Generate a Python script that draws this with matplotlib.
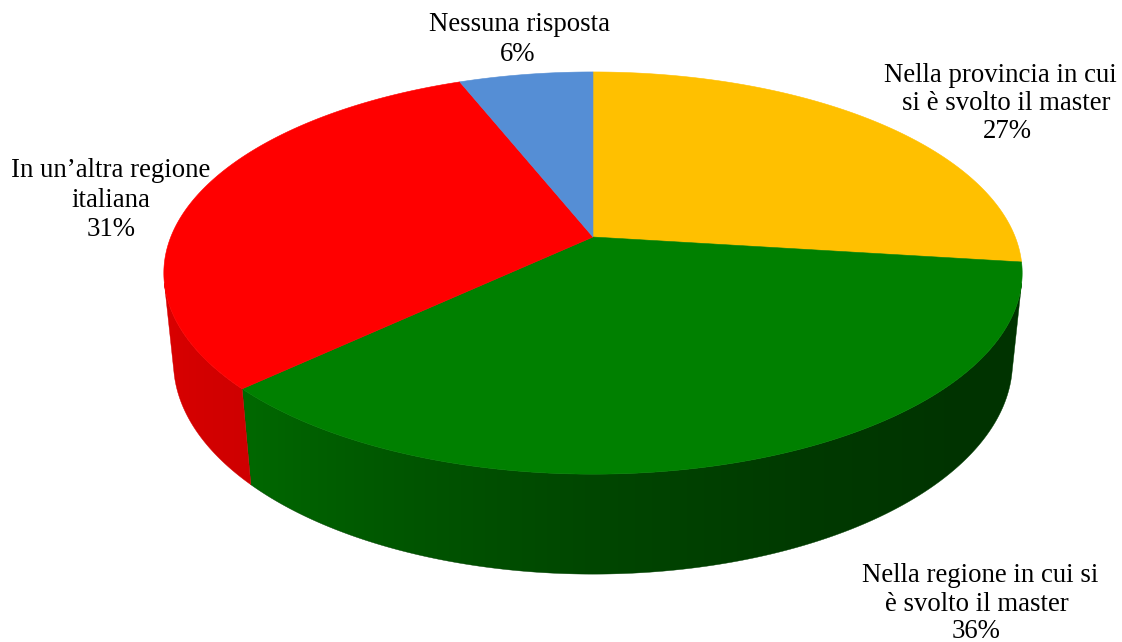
import numpy as np
import matplotlib
matplotlib.use("Agg")
import matplotlib.pyplot as plt
from matplotlib.patches import Polygon
from matplotlib.colors import to_rgb

# ---- data ----
values = [27, 36, 31, 6]
colors = ["#FFC000", "#008000", "#FF0000", "#558ED5"]
label_lines = [
    ["Nella provincia in cui", "si è svolto il master", "27%"],
    ["Nella regione in cui si", "è svolto il master", "36%"],
    ["In un’altra regione", "italiana", "31%"],
    ["Nessuna risposta", "6%"],
]
# label line anchor positions (pixel coords: x center, baseline y)
label_pos = [
    [(1000, 81.7), (1006, 110.0), (1007.5, 138.3)],
    [(980.5, 581.7), (976.5, 610.7), (975.6, 637.5)],
    [(111, 177.0), (111, 206.7), (111, 236.0)],
    [(520, 30.7), (518, 61.0)],
]

W, H = 1122, 642
fig = plt.figure(figsize=(W / 100, H / 100), dpi=100)
ax = fig.add_axes([0, 0, 1, 1])
ax.set_xlim(0, W)
ax.set_ylim(H, 0)
ax.axis("off")

# ---- perspective camera for the 3D pie ----
CX, CY = 593.0, 237.0
s = 0.461
c = np.sqrt(1 - s * s)
L = 4.95
F = 2090.0
DEPTH = 0.239
Zc = L * c
VIS = np.degrees(np.arcsin(1.0 / Zc))  # visible side: 180+VIS .. 360-VIS


def proj(theta_deg, depth):
    t = np.radians(theta_deg)
    X = np.cos(t)
    v = np.sin(t)
    den = L + depth * s + v * c
    x = CX + F * X / den
    y = CY - F * (v * s - depth * c) / den
    return x, y


def shade(theta_deg):
    t = np.asarray(theta_deg) % 360
    return np.interp(t, [180, 200, 225, 250, 270, 295, 320, 360],
                     [0.86, 0.85, 0.81, 0.66, 0.55, 0.45, 0.40, 0.40])


total = float(sum(values))
bounds = [90.0]
for val in values:
    bounds.append(bounds[-1] - val / total * 360.0)

# mapping x -> theta along visible front rim
tf = np.linspace(180 + VIS, 360 - VIS, 2000)
xf, _ = proj(tf, 0)

# sides (gradient image clipped to each slice's side polygon)
for i, col in enumerate(colors):
    t1, t2 = bounds[i] % 360, bounds[i + 1] % 360
    lo, hi = sorted([t1, t2])
    if bounds[i] - bounds[i + 1] > 0 and t2 > t1:  # wraps around 0
        ranges = [(t2, 360), (0, t1)]
    else:
        ranges = [(lo, hi)]
    base = np.array(to_rgb(col))
    for a, b in ranges:
        a2, b2 = max(a, 180 + VIS), min(b, 360 - VIS)
        if b2 <= a2:
            continue
        ts = np.linspace(a2, b2, 300)
        xt, yt = proj(ts, 0)
        xb, yb = proj(ts[::-1], DEPTH)
        pts = list(zip(xt, yt)) + list(zip(xb, yb))
        poly = Polygon(pts, closed=True, facecolor="none", edgecolor="none")
        ax.add_patch(poly)
        x0, x1 = min(min(xt), min(xb)) - 2, max(max(xt), max(xb)) + 2
        y0, y1 = min(min(yt), min(yb)) - 2, max(max(yt), max(yb)) + 2
        xs = np.linspace(x0, x1, 600)
        th = np.interp(xs, xf, tf)
        rgb = np.clip(base[None, :] * shade(th)[:, None], 0, 1)
        img = ax.imshow(rgb[None, :, :], extent=[x0, x1, y1, y0],
                        aspect="auto", interpolation="bilinear", zorder=1)
        img.set_clip_path(poly)
        ax.add_patch(Polygon(pts, closed=True, facecolor="none",
                             edgecolor=np.clip(base * shade(0.5 * (a2 + b2)), 0, 1),
                             linewidth=0.3, zorder=1))

# top faces
for i, col in enumerate(colors):
    t1, t2 = bounds[i], bounds[i + 1]
    ts = np.linspace(t1, t2, 200)
    xs, ys = proj(ts, 0)
    pts = [(CX, CY)] + list(zip(xs, ys))
    ax.add_patch(Polygon(pts, closed=True, facecolor=col, edgecolor=col,
                         linewidth=0.4, zorder=2))

ax.set_xlim(0, W)
ax.set_ylim(H, 0)

# labels
for lines, poss in zip(label_lines, label_pos):
    for txt, (x, y) in zip(lines, poss):
        ax.text(x, y, txt, ha="center", va="baseline", fontsize=19.3,
                family="Liberation Serif", color="black", zorder=3)

fig.savefig("out.png", dpi=100)
